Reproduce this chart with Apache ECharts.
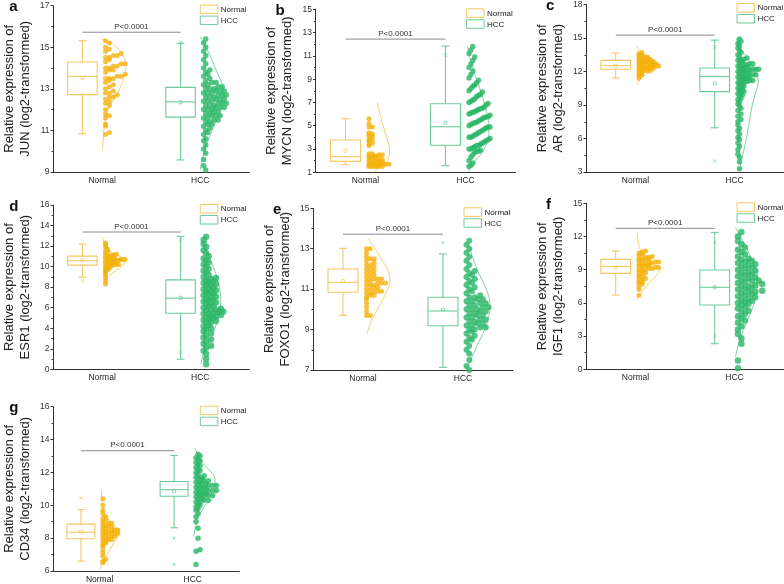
<!DOCTYPE html>
<html>
<head>
<meta charset="utf-8">
<title>Relative expression, Normal vs HCC</title>
<script src="https://cdn.jsdelivr.net/npm/echarts@6/dist/echarts.min.js"></script>
<style>
  html, body { margin: 0; padding: 0; background: #fff; }
  #chart { width: 784px; height: 584px; }
</style>
</head>
<body>
<div id="chart"></div>
<script>
// ---- data ----
const genes = ['JUN', 'MYCN', 'AR', 'ESR1', 'FOXO1', 'IGF1', 'CD34'];
const letters = ['a', 'b', 'c', 'd', 'e', 'f', 'g'];
const groups = ['Normal', 'HCC'];
const pLabel = 'P<0.0001';

// y axis ranges and tick labels
const yMin = [9, 1, 3, 0, 7, 0, 6];
const yMax = [17, 15, 18, 16, 15, 15, 16];
const junTicks = [9, 11, 13, 15, 17];
const mycnTicks = [1, 3, 5, 7, 9, 11, 13, 15];
const arTicks = [3, 6, 9, 12, 15, 18];
const esr1Ticks = [0, 2, 4, 6, 8, 10, 12, 14, 16];
const foxo1Ticks = [7, 9, 11, 13, 15];
const igf1Ticks = [0, 3, 6, 9, 12, 15];
const cd34Ticks = [6, 8, 10, 12, 14, 16];

// box stats: [min, q1, median, q3, max, mean]
const junBoxNormal = [10.84, 12.72, 13.6, 14.29, 15.31, 13.52];
const junBoxHCC = [9.58, 11.64, 12.37, 13.07, 15.19, 12.35];
const mycnBoxNormal = [1.65, 1.94, 2.34, 3.77, 5.6, 2.85];
const mycnBoxHCC = [1.57, 3.32, 4.91, 6.89, 11.84, 5.26];
const arBoxNormal = [11.42, 12.2, 12.53, 13.0, 13.65, 12.5];
const arBoxHCC = [6.96, 10.2, 11.54, 12.31, 14.81, 10.92];
const esr1BoxNormal = [8.97, 10.14, 10.57, 11.02, 12.2, 10.6];
const esr1BoxHCC = [0.98, 5.46, 6.93, 8.71, 12.94, 6.97];
const foxo1BoxNormal = [9.71, 10.85, 11.34, 12.0, 13.02, 11.4];
const foxo1BoxHCC = [7.13, 9.19, 9.92, 10.6, 12.74, 9.99];
const igf1BoxNormal = [6.71, 8.67, 9.3, 9.93, 10.69, 9.2];
const igf1BoxHCC = [2.31, 5.81, 7.41, 8.97, 12.37, 7.4];
const cd34BoxNormal = [6.6, 7.96, 8.36, 8.85, 9.74, 8.4];
const cd34BoxHCC = [8.63, 10.55, 10.95, 11.45, 13.03, 10.85];

// 1% / 99% markers (x)
const markNormal = [[], [], [], [8.65], [], [], [10.45]];
const markHCC = [[15.25], [11.07], [14.19, 3.98], [12.6, 1.6], [13.3], [11.45, 3.0], [8.0, 6.4]];

// level of the P-value bracket
const pLevel = [15.72, 12.44, 15.26, 13.37, 13.72, 12.74, 13.32];

// individual samples (estimated)
const junNormal = [10.8, 10.9, 11.2, 11.3, 11.6, 11.7, 11.8, 12.0, 12.2, 12.3, 12.4, 12.5, 12.6, 12.6, 12.7, 12.8, 12.8, 12.9, 13.0, 13.1, 13.2, 13.3, 13.4, 13.5, 13.5, 13.5, 13.6, 13.6, 13.7, 13.8, 13.9, 13.9, 14.0, 14.0, 14.1, 14.1, 14.2, 14.2, 14.3, 14.4, 14.5, 14.5, 14.6, 14.6, 14.7, 14.8, 14.9, 15.0, 15.2, 15.3];
const junHCC = [9.1, 9.3, 9.6, 9.9, 10.1, 10.3, 10.5, 10.6, 10.8, 10.9, 11.0, 11.1, 11.2, 11.3, 11.3, 11.4, 11.4, 11.5, 11.5, 11.6, 11.6, 11.7, 11.7, 11.7, 11.8, 11.8, 11.9, 11.9, 12.0, 12.0, 12.0, 12.1, 12.1, 12.1, 12.2, 12.2, 12.2, 12.3, 12.3, 12.3, 12.4, 12.4, 12.4, 12.5, 12.5, 12.5, 12.6, 12.6, 12.6, 12.7, 12.7, 12.7, 12.8, 12.8, 12.8, 12.9, 12.9, 12.9, 13.0, 13.0, 13.0, 13.1, 13.1, 13.2, 13.2, 13.3, 13.3, 13.4, 13.5, 13.6, 13.7, 13.8, 13.9, 14.0, 14.2, 14.4, 14.6, 14.8, 15.0, 15.2, 15.4];
const mycnNormal = [1.5, 1.5, 1.5, 1.5, 1.5, 1.6, 1.6, 1.6, 1.6, 1.7, 1.7, 1.7, 1.8, 1.8, 1.8, 1.9, 1.9, 2.0, 2.0, 2.0, 2.0, 2.1, 2.2, 2.3, 2.3, 2.3, 2.4, 2.4, 2.4, 2.5, 2.5, 2.6, 2.6, 3.3, 3.4, 3.5, 3.7, 3.8, 3.8, 4.1, 4.1, 4.3, 4.3, 4.4, 4.9, 4.9, 5.2, 5.6];
const mycnHCC = [1.5, 1.6, 1.8, 2.0, 2.3, 2.5, 2.7, 2.8, 2.8, 2.9, 3.0, 3.0, 3.1, 3.2, 3.3, 3.3, 3.4, 3.5, 3.6, 3.7, 3.8, 3.9, 4.0, 4.0, 4.1, 4.2, 4.3, 4.4, 4.5, 4.6, 4.7, 4.8, 4.9, 4.9, 5.0, 5.1, 5.2, 5.25, 5.3, 5.4, 5.5, 5.6, 5.7, 5.75, 5.8, 5.9, 6.0, 6.1, 6.15, 6.2, 6.3, 6.4, 6.45, 6.5, 6.6, 6.8, 6.9, 7.0, 7.1, 7.2, 7.3, 7.5, 7.6, 7.7, 7.9, 8.0, 8.2, 8.4, 8.5, 8.7, 8.9, 9.1, 9.4, 9.7, 10.0, 10.3, 10.6, 10.9, 11.2, 11.5, 11.8];
const arNormal = [11.4, 11.6, 11.7, 11.8, 11.9, 12.0, 12.0, 12.1, 12.1, 12.1, 12.2, 12.2, 12.2, 12.3, 12.3, 12.3, 12.4, 12.4, 12.4, 12.4, 12.5, 12.5, 12.5, 12.5, 12.6, 12.6, 12.6, 12.6, 12.7, 12.7, 12.7, 12.8, 12.8, 12.8, 12.9, 12.9, 12.9, 13.0, 13.0, 13.0, 13.1, 13.1, 13.2, 13.2, 13.3, 13.3, 13.4, 13.5, 13.6, 13.7];
const arHCC = [3.3, 3.9, 4.3, 4.6, 5.0, 5.3, 5.6, 5.9, 6.1, 6.4, 6.7, 6.9, 7.2, 7.5, 7.7, 8.0, 8.2, 8.5, 8.7, 8.9, 9.1, 9.3, 9.5, 9.6, 9.8, 9.9, 10.0, 10.1, 10.2, 10.3, 10.4, 10.5, 10.6, 10.7, 10.8, 10.9, 11.0, 11.0, 11.1, 11.1, 11.2, 11.2, 11.3, 11.3, 11.4, 11.4, 11.5, 11.5, 11.5, 11.6, 11.6, 11.7, 11.7, 11.8, 11.8, 11.9, 11.9, 12.0, 12.0, 12.0, 12.1, 12.1, 12.2, 12.2, 12.2, 12.3, 12.3, 12.4, 12.4, 12.5, 12.5, 12.6, 12.6, 12.7, 12.7, 12.8, 12.9, 13.0, 13.0, 13.1, 13.2, 13.3, 13.5, 13.7, 13.9, 14.1, 14.3, 14.5, 14.7, 14.9];
const esr1Normal = [8.3, 8.6, 8.9, 9.2, 9.4, 9.6, 9.7, 9.8, 9.9, 9.9, 10.0, 10.0, 10.1, 10.1, 10.2, 10.2, 10.2, 10.3, 10.3, 10.4, 10.4, 10.4, 10.5, 10.5, 10.5, 10.6, 10.6, 10.6, 10.6, 10.7, 10.7, 10.7, 10.8, 10.8, 10.8, 10.9, 10.9, 11.0, 11.0, 11.0, 11.1, 11.1, 11.2, 11.3, 11.4, 11.5, 11.7, 11.9, 12.1, 12.3];
const esr1HCC = [0.5, 1.0, 1.5, 1.8, 2.1, 2.3, 2.5, 2.7, 2.9, 3.1, 3.3, 3.5, 3.7, 3.9, 4.0, 4.2, 4.3, 4.5, 4.6, 4.7, 4.8, 4.9, 5.0, 5.1, 5.2, 5.2, 5.3, 5.4, 5.4, 5.5, 5.6, 5.6, 5.7, 5.8, 5.8, 5.9, 6.0, 6.1, 6.2, 6.3, 6.4, 6.5, 6.6, 6.7, 6.8, 6.9, 7.0, 7.1, 7.2, 7.3, 7.4, 7.5, 7.6, 7.7, 7.8, 7.9, 8.0, 8.1, 8.2, 8.3, 8.4, 8.5, 8.6, 8.7, 8.8, 8.9, 9.0, 9.2, 9.4, 9.6, 9.8, 10.0, 10.2, 10.4, 10.6, 10.8, 11.0, 11.3, 11.6, 11.9, 12.2, 12.6, 12.9];
const foxo1Normal = [9.7, 9.7, 9.9, 10.1, 10.3, 10.5, 10.6, 10.7, 10.7, 10.8, 10.8, 10.9, 10.9, 10.9, 11.0, 11.0, 11.1, 11.1, 11.2, 11.2, 11.2, 11.3, 11.3, 11.3, 11.4, 11.4, 11.5, 11.5, 11.5, 11.6, 11.6, 11.7, 11.8, 11.8, 11.9, 12.0, 12.0, 12.1, 12.2, 12.2, 12.3, 12.4, 12.5, 12.5, 12.6, 12.8, 13.0, 13.0];
const foxo1HCC = [7.0, 7.2, 7.5, 7.8, 8.0, 8.2, 8.4, 8.5, 8.6, 8.7, 8.8, 8.9, 9.0, 9.0, 9.1, 9.1, 9.2, 9.2, 9.3, 9.3, 9.4, 9.4, 9.5, 9.5, 9.6, 9.6, 9.7, 9.7, 9.8, 9.8, 9.9, 9.9, 10.0, 10.0, 10.0, 10.1, 10.1, 10.2, 10.2, 10.3, 10.3, 10.4, 10.4, 10.5, 10.5, 10.6, 10.6, 10.7, 10.8, 10.9, 11.0, 11.1, 11.2, 11.3, 11.4, 11.5, 11.6, 11.7, 11.8, 11.9, 12.0, 12.2, 12.4, 12.6, 12.8, 13.0, 13.2, 13.4];
const igf1Normal = [6.7, 7.2, 7.5, 7.7, 7.8, 7.9, 8.0, 8.1, 8.2, 8.3, 8.4, 8.5, 8.6, 8.7, 8.8, 8.9, 9.0, 9.0, 9.0, 9.1, 9.1, 9.2, 9.2, 9.3, 9.3, 9.4, 9.4, 9.5, 9.5, 9.5, 9.6, 9.6, 9.7, 9.7, 9.8, 9.8, 9.9, 9.9, 10.0, 10.0, 10.1, 10.1, 10.2, 10.3, 10.4, 10.5, 10.6, 10.7];
const igf1HCC = [0.1, 0.8, 2.3, 2.8, 3.2, 3.6, 3.9, 4.2, 4.4, 4.6, 4.8, 5.0, 5.2, 5.3, 5.5, 5.6, 5.8, 5.9, 6.0, 6.1, 6.2, 6.3, 6.4, 6.5, 6.6, 6.7, 6.8, 6.9, 7.0, 7.0, 7.1, 7.2, 7.3, 7.4, 7.5, 7.5, 7.6, 7.7, 7.8, 7.9, 8.0, 8.0, 8.1, 8.2, 8.3, 8.4, 8.5, 8.6, 8.7, 8.8, 8.9, 9.0, 9.1, 9.2, 9.3, 9.4, 9.5, 9.6, 9.7, 9.8, 9.9, 10.0, 10.2, 10.4, 10.6, 10.8, 11.0, 11.3, 11.6, 12.0, 12.4];
const cd34Normal = [6.5, 6.6, 6.7, 6.9, 7.1, 7.3, 7.5, 7.6, 7.7, 7.8, 7.8, 7.9, 7.9, 8.0, 8.0, 8.0, 8.1, 8.1, 8.2, 8.2, 8.2, 8.3, 8.3, 8.3, 8.4, 8.4, 8.4, 8.5, 8.5, 8.5, 8.6, 8.6, 8.7, 8.7, 8.8, 8.8, 8.9, 8.9, 9.0, 9.1, 9.2, 9.3, 9.5, 9.7, 10.0, 10.4];
const cd34HCC = [6.4, 7.2, 7.3, 8.0, 8.6, 9.0, 9.3, 9.5, 9.7, 9.8, 9.9, 10.0, 10.1, 10.2, 10.2, 10.3, 10.3, 10.4, 10.4, 10.5, 10.5, 10.6, 10.6, 10.6, 10.7, 10.7, 10.7, 10.8, 10.8, 10.8, 10.9, 10.9, 10.9, 11.0, 11.0, 11.0, 11.1, 11.1, 11.1, 11.2, 11.2, 11.2, 11.3, 11.3, 11.3, 11.4, 11.4, 11.5, 11.5, 11.6, 11.6, 11.7, 11.7, 11.8, 11.9, 12.0, 12.1, 12.2, 12.3, 12.4, 12.5, 12.6, 12.7, 12.8, 12.9, 13.0, 13.1];

// distribution curves: [value, density]
const junNormalCurve = [[15.4, 0], [15.0, 0.3], [14.6, 0.42], [14.2, 0.49], [13.8, 0.47], [13.5, 0.44], [12.9, 0.34], [12.4, 0.21], [11.8, 0.09], [11.3, 0.05], [10.8, 0.03], [10.0, 0.01]];
const junHCCCurve = [[15.5, 0], [14.9, 0.14], [13.8, 0.34], [13.0, 0.46], [12.0, 0.42], [11.2, 0.28], [10.4, 0.14], [9.6, 0.04], [9.1, 0]];
const mycnNormalCurve = [[7.0, 0.24], [5.8, 0.3], [4.3, 0.4], [2.9, 0.48], [2.0, 0.44], [1.5, 0.3], [1.0, 0.16]];
const mycnHCCCurve = [[11.8, 0.04], [10.0, 0.14], [8.4, 0.27], [6.5, 0.4], [4.9, 0.47], [3.2, 0.4], [1.6, 0.13], [1.0, 0.05]];
const arNormalCurve = [[14.3, 0.02], [13.8, 0.1], [13.3, 0.24], [12.8, 0.44], [12.5, 0.48], [12.2, 0.4], [11.7, 0.2], [11.2, 0.08], [10.8, 0.02]];
const arHCCCurve = [[15.0, 0.04], [14.2, 0.1], [13.0, 0.3], [12.0, 0.42], [11.1, 0.48], [10.0, 0.42], [9.0, 0.36], [7.5, 0.3], [6.0, 0.24], [4.0, 0.14], [3.2, 0.1]];
const esr1NormalCurve = [[12.8, 0.01], [12.2, 0.05], [11.6, 0.14], [11.1, 0.32], [10.6, 0.48], [10.1, 0.42], [9.6, 0.28], [9.0, 0.12], [8.4, 0.03]];
const esr1HCCCurve = [[12.9, 0.02], [12.0, 0.08], [11.0, 0.18], [9.0, 0.34], [8.0, 0.39], [6.7, 0.42], [5.1, 0.38], [4.0, 0.3], [3.1, 0.22], [2.0, 0.1], [1.1, 0.04], [0.5, 0.01]];
const foxo1NormalCurve = [[13.5, 0.1], [12.6, 0.34], [11.5, 0.54], [10.5, 0.4], [9.5, 0.18], [8.8, 0.08]];
const foxo1HCCCurve = [[13.4, 0.08], [12.0, 0.28], [10.9, 0.48], [10.2, 0.54], [9.3, 0.48], [8.2, 0.28], [7.2, 0.1]];
const igf1NormalCurve = [[12.3, 0.04], [10.8, 0.1], [9.8, 0.3], [9.0, 0.48], [8.1, 0.34], [7.2, 0.16], [6.3, 0.04]];
const igf1HCCCurve = [[12.8, 0.02], [10.4, 0.3], [8.3, 0.46], [6.8, 0.44], [4.4, 0.26], [2.6, 0.1], [1.1, 0.02]];
const cd34NormalCurve = [[10.95, 0.04], [9.55, 0.1], [8.75, 0.32], [8.35, 0.42], [7.75, 0.32], [6.95, 0.15], [6.1, 0.01]];
const cd34HCCCurve = [[13.5, 0.04], [12.6, 0.21], [11.5, 0.48], [10.7, 0.48], [10.0, 0.27], [9.1, 0.1], [8.1, 0.02]];

// ---- grouping ----
const yTicks = [junTicks, mycnTicks, arTicks, esr1Ticks, foxo1Ticks, igf1Ticks, cd34Ticks];
const boxNormal = [junBoxNormal, mycnBoxNormal, arBoxNormal, esr1BoxNormal, foxo1BoxNormal, igf1BoxNormal, cd34BoxNormal];
const boxHCC = [junBoxHCC, mycnBoxHCC, arBoxHCC, esr1BoxHCC, foxo1BoxHCC, igf1BoxHCC, cd34BoxHCC];
const ptsNormal = [junNormal, mycnNormal, arNormal, esr1Normal, foxo1Normal, igf1Normal, cd34Normal];
const ptsHCC = [junHCC, mycnHCC, arHCC, esr1HCC, foxo1HCC, igf1HCC, cd34HCC];
const curveNormal = [junNormalCurve, mycnNormalCurve, arNormalCurve, esr1NormalCurve, foxo1NormalCurve, igf1NormalCurve, cd34NormalCurve];
const curveHCC = [junHCCCurve, mycnHCCCurve, arHCCCurve, esr1HCCCurve, foxo1HCCCurve, igf1HCCCurve, cd34HCCCurve];

// ---- layout / style ----
const FONT = '"Liberation Sans", Arial, sans-serif';
const NORMAL_PT = '#F5B10C';
const NORMAL_LINE = '#F6C762';
const HCC_PT = '#2BB766';
const HCC_LINE = '#6FCC9A';
const AXIS = '#333';

const panels = [
  { left: 49.3, top: 5.6, width: 200, height: 166.4 },
  { left: 315.5, top: 9.3, width: 200, height: 163 },
  { left: 586, top: 4, width: 200, height: 168 },
  { left: 49.3, top: 205, width: 200, height: 164.3 },
  { left: 313, top: 208.3, width: 200, height: 161.7 },
  { left: 586, top: 203.3, width: 200, height: 166 },
  { left: 49.3, top: 406.7, width: 190, height: 165 }
];
// bin size (y units) and spread (x units) of the dot columns
const binNormal = [0.25, 0.2, 0.2, 0.25, 0.2, 0.25, 0.2];
const binHCC = [0.2, 1.0, 0.25, 0.3, 0.2, 0.3, 0.15];
const spreadNormal = [0.4, 0.4, 0.4, 0.4, 0.38, 0.4, 0.32];
const spreadHCC = [0.42, 0.42, 0.42, 0.4, 0.44, 0.42, 0.44];
const staggerHCC = [true, false, true, true, true, true, true];
const sizeHCC = [5.5, 5.5, 5.5, 6.5, 6, 6.5, 5.5];

const CENTERS = [1, 3];      // Normal / HCC on the hidden 0..4 value axis
const BOX_OFFSET = -0.4;
const BOX_HALF = 0.3;
const CAP_HALF = 0.08;
const PT_START = 0.07;

function layoutPoints(values, center, binSize, spread, stagger) {
  const sorted = values.slice().sort((a, b) => a - b);
  const bins = new Map();
  sorted.forEach(v => {
    const k = Math.floor(v / binSize + 1e-6);
    if (!bins.has(k)) bins.set(k, []);
    bins.get(k).push(v);
  });
  let maxN = 1;
  bins.forEach(b => { maxN = Math.max(maxN, b.length); });
  const step = maxN > 1 ? spread / (maxN - 1) : 0;
  const out = [];
  bins.forEach((b, k) => {
    const shift = stagger && (k % 2) ? step * 0.5 : 0;
    b.forEach((v, i) => out.push([center + PT_START + shift + i * step, v]));
  });
  return out;
}

function boxRenderer(stroke) {
  return function (params, api) {
    const x = api.value(0);
    const v = k => api.value(k);
    const pt = (dx, y) => api.coord([x + dx, y]);
    const line = (a, b, w) => ({
      type: 'line',
      shape: { x1: a[0], y1: a[1], x2: b[0], y2: b[1] },
      style: { stroke: stroke, lineWidth: w || 1.1 }
    });
    const tl = pt(-BOX_HALF, v(4));
    const br = pt(BOX_HALF, v(2));
    const m = pt(0, v(6));
    return {
      type: 'group',
      children: [
        line(pt(0, v(5)), pt(0, v(4))),
        line(pt(0, v(2)), pt(0, v(1))),
        line(pt(-CAP_HALF, v(5)), pt(CAP_HALF, v(5))),
        line(pt(-CAP_HALF, v(1)), pt(CAP_HALF, v(1))),
        {
          type: 'rect',
          shape: { x: tl[0], y: tl[1], width: br[0] - tl[0], height: br[1] - tl[1] },
          style: { fill: 'rgba(255,255,255,0)', stroke: stroke, lineWidth: 1.1 }
        },
        line(pt(-BOX_HALF, v(3)), pt(BOX_HALF, v(3))),
        {
          type: 'rect',
          shape: { x: m[0] - 1.5, y: m[1] - 1.5, width: 3, height: 3 },
          style: { fill: 'rgba(255,255,255,0)', stroke: stroke, lineWidth: 0.7 }
        }
      ]
    };
  };
}

function markRenderer(stroke) {
  return function (params, api) {
    const p = api.coord([api.value(0), api.value(1)]);
    const r = 1.6;
    return {
      type: 'group',
      children: [
        { type: 'line', shape: { x1: p[0] - r, y1: p[1] - r, x2: p[0] + r, y2: p[1] + r }, style: { stroke: stroke, lineWidth: 0.7 } },
        { type: 'line', shape: { x1: p[0] - r, y1: p[1] + r, x2: p[0] + r, y2: p[1] - r }, style: { stroke: stroke, lineWidth: 0.7 } }
      ]
    };
  };
}

function bracketRenderer(params, api) {
  const a = api.coord([api.value(0), api.value(2)]);
  const b = api.coord([api.value(1), api.value(2)]);
  return {
    type: 'group',
    children: [
      { type: 'line', shape: { x1: a[0], y1: a[1], x2: b[0], y2: b[1] }, style: { stroke: '#8a8a8a', lineWidth: 1 } },
      {
        type: 'text',
        style: {
          x: (a[0] + b[0]) / 2, y: a[1] - 1.5, text: pLabel,
          align: 'center', verticalAlign: 'bottom',
          fontSize: 8, fontFamily: FONT, fill: '#333'
        }
      }
    ]
  };
}

const grid = [], xAxis = [], yAxis = [], series = [], graphic = [];

genes.forEach((gene, i) => {
  const p = panels[i];
  grid.push({ left: p.left, top: p.top, width: p.width, height: p.height });

  xAxis.push({
    type: 'category', gridIndex: i, data: groups, boundaryGap: true,
    axisLine: { lineStyle: { color: AXIS, width: 1 } },
    axisTick: { alignWithLabel: true, length: 2.5, lineStyle: { color: AXIS } },
    axisLabel: { fontSize: 8.5, color: '#222', margin: 4, fontFamily: FONT },
    splitLine: { show: false }
  });
  xAxis.push({ type: 'value', gridIndex: i, min: 0, max: 4, show: false });

  const ticks = yTicks[i];
  const minor = ticks.slice(1).map((t, k) => (t + ticks[k]) / 2);
  yAxis.push({
    type: 'value', gridIndex: i, position: 'left', min: yMin[i], max: yMax[i],
    splitLine: { show: false },
    axisLine: { show: true, lineStyle: { color: AXIS, width: 1 } },
    axisTick: { show: true, length: 2.5, customValues: ticks, lineStyle: { color: AXIS } },
    axisLabel: { customValues: ticks, fontSize: 8.5, margin: 3.5, color: '#333', fontFamily: FONT },
    name: 'Relative expression of\n' + gene + ' (log2-transformed)',
    nameLocation: 'middle', nameGap: 20,
    nameTextStyle: { fontSize: 13, lineHeight: 16, color: '#222', fontFamily: FONT }
  });
  yAxis.push({
    type: 'value', gridIndex: i, position: 'left', offset: 0, min: yMin[i], max: yMax[i],
    splitLine: { show: false },
    axisLine: { show: false },
    axisTick: { show: true, length: 1.5, customValues: minor, lineStyle: { color: AXIS } },
    axisLabel: { show: false }
  });

  const xi = 2 * i + 1, yi = 2 * i;
  const nC = CENTERS[0], hC = CENTERS[1];

  series.push({
    type: 'line', name: 'Normal curve', xAxisIndex: xi, yAxisIndex: yi,
    data: curveNormal[i].map(d => [nC + d[1], d[0]]),
    smooth: 0.4, showSymbol: false, symbol: 'none', silent: true,
    lineStyle: { color: NORMAL_LINE, width: 0.9 }, z: 2
  });
  series.push({
    type: 'line', name: 'HCC curve', xAxisIndex: xi, yAxisIndex: yi,
    data: curveHCC[i].map(d => [hC + d[1], d[0]]),
    smooth: 0.4, showSymbol: false, symbol: 'none', silent: true,
    lineStyle: { color: HCC_LINE, width: 0.9 }, z: 2
  });
  series.push({
    type: 'scatter', name: 'Normal', xAxisIndex: xi, yAxisIndex: yi,
    data: layoutPoints(ptsNormal[i], nC, binNormal[i], spreadNormal[i], false),
    symbol: 'circle', symbolSize: 5, silent: true,
    itemStyle: { color: NORMAL_PT }, z: 3
  });
  series.push({
    type: 'scatter', name: 'HCC', xAxisIndex: xi, yAxisIndex: yi,
    data: layoutPoints(ptsHCC[i], hC, binHCC[i], spreadHCC[i], staggerHCC[i]),
    symbol: 'circle', symbolSize: sizeHCC[i], silent: true,
    itemStyle: { color: HCC_PT }, z: 3
  });
  series.push({
    type: 'custom', name: 'Normal box', xAxisIndex: xi, yAxisIndex: yi,
    renderItem: boxRenderer(NORMAL_LINE), silent: true,
    data: [[nC + BOX_OFFSET].concat(boxNormal[i])], z: 4
  });
  series.push({
    type: 'custom', name: 'HCC box', xAxisIndex: xi, yAxisIndex: yi,
    renderItem: boxRenderer(HCC_LINE), silent: true,
    data: [[hC + BOX_OFFSET].concat(boxHCC[i])], z: 4
  });
  series.push({
    type: 'custom', name: 'Normal marks', xAxisIndex: xi, yAxisIndex: yi,
    renderItem: markRenderer(NORMAL_LINE), silent: true,
    data: markNormal[i].map(v => [nC + BOX_OFFSET, v]), z: 4
  });
  series.push({
    type: 'custom', name: 'HCC marks', xAxisIndex: xi, yAxisIndex: yi,
    renderItem: markRenderer(HCC_LINE), silent: true,
    data: markHCC[i].map(v => [hC + BOX_OFFSET, v]), z: 4
  });
  series.push({
    type: 'custom', name: 'P value', xAxisIndex: xi, yAxisIndex: yi,
    renderItem: bracketRenderer, silent: true,
    data: [[nC + BOX_OFFSET, hC + BOX_OFFSET, pLevel[i]]], z: 5
  });

  // panel letter
  graphic.push({
    type: 'text', x: p.left - 40, y: p.top + 1.5, silent: true,
    style: { text: letters[i], fontSize: 15, fontWeight: 'bold', fontFamily: FONT, fill: '#111', verticalAlign: 'middle' }
  });
  // legend
  const lx = p.left + 151, ly = p.top - 0.5;
  [[NORMAL_LINE, groups[0], 0], [HCC_LINE, groups[1], 11]].forEach(([c, label, dy]) => {
    graphic.push({
      type: 'rect', silent: true,
      shape: { x: lx, y: ly + dy, width: 17.5, height: 8.5 },
      style: { fill: '#fff', stroke: c, lineWidth: 1 }
    });
    graphic.push({
      type: 'text', silent: true, x: lx + 20.5, y: ly + dy + 4.5,
      style: { text: label, fontSize: 8, fontFamily: FONT, fill: '#222', verticalAlign: 'middle' }
    });
  });
});

const chart = echarts.init(document.getElementById('chart'), null, { renderer: 'canvas' });
chart.setOption({
  animation: false,
  backgroundColor: '#fff',
  grid: grid,
  xAxis: xAxis,
  yAxis: yAxis,
  series: series,
  graphic: graphic
});
window.addEventListener('resize', () => chart.resize());
</script>
</body>
</html>
